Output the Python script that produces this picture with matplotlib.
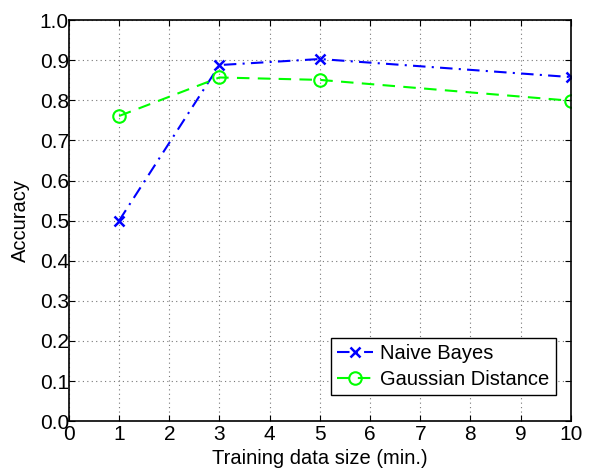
import matplotlib
matplotlib.use('Agg')
import matplotlib.pyplot as plt

# training data size (minutes) and accuracy values
sizes = [1, 3, 5, 10]
naive_bayes = [0.500, 0.888, 0.903, 0.858]
gaussian_dist = [0.761, 0.857, 0.851, 0.799]

plt.rcParams['font.family'] = ['Liberation Sans', 'DejaVu Sans']
plt.rcParams['font.size'] = 14.5

fig = plt.figure(figsize=(5.89, 4.68), dpi=100)
ax = fig.add_axes([0.117, 0.100, 0.852, 0.857])

ax.plot(sizes, naive_bayes, color='blue', linestyle='-.', marker='x',
        markersize=7, markeredgewidth=1.8, linewidth=1.5,
        dashes=(6, 3, 1, 3), label='Naive Bayes')
ax.plot(sizes, gaussian_dist, color='#00ff00', linestyle='--', marker='o',
        markersize=9, markerfacecolor='none', markeredgewidth=1.5,
        linewidth=1.5, dashes=(6, 4), label='Gaussian Distance')

ax.set_xlim(0, 10)
ax.set_ylim(0, 1.0)
ax.set_xticks(range(0, 11))
ax.set_yticks([i / 10 for i in range(11)])
ax.set_yticklabels(['%.1f' % (i / 10) for i in range(11)])
ax.tick_params(direction='in', top=True, right=True, length=4, labelsize=15)
ax.tick_params(axis='x', pad=3)
ax.tick_params(axis='y', pad=0)
ax.grid(True, linestyle=(0, (1, 3)), color='#777777', linewidth=0.8)
for s in ax.spines.values():
    s.set_linewidth(1.2)

ax.set_xlabel('Training data size (min.)', labelpad=3)
ax.set_ylabel('Accuracy', labelpad=7)

leg = ax.legend(loc='lower right', bbox_to_anchor=(0.970, 0.065),
                borderaxespad=0, fancybox=False, framealpha=1,
                edgecolor='black', handlelength=1.8,
                borderpad=0.3, labelspacing=0.35, handletextpad=0.35)
leg.get_frame().set_linewidth(1.0)

fig.savefig('out.png', dpi=100)
